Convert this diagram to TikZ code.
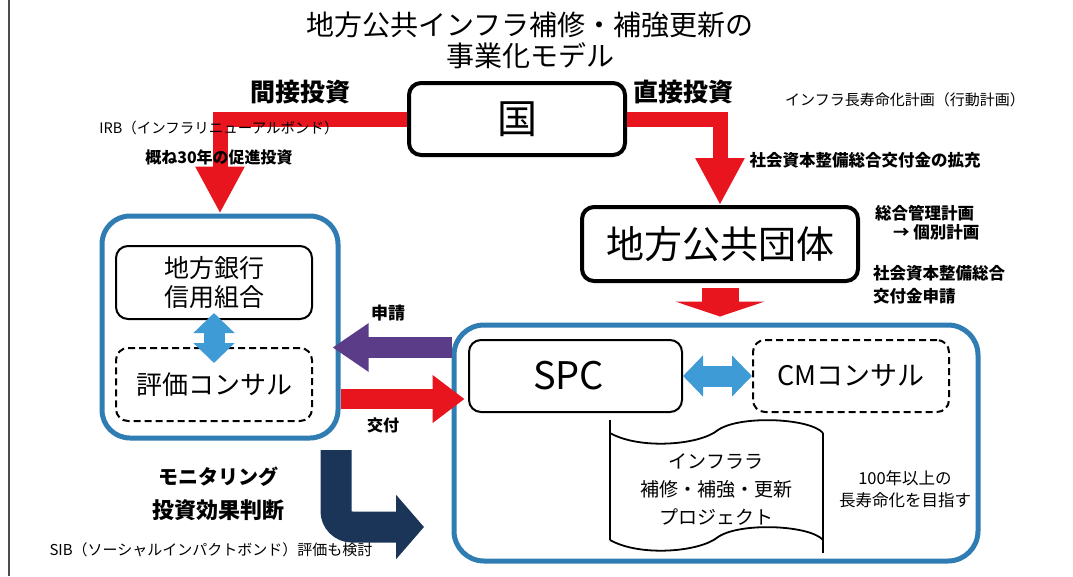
\documentclass[tikz,border=0pt]{standalone}
\usepackage{fontspec}
\setmainfont{Noto Sans CJK JP}
\usetikzlibrary{arrows.meta,calc}
\definecolor{jred}{HTML}{E8141E}
\definecolor{jblue}{HTML}{2F7DB3}
\definecolor{lblue}{HTML}{3E9BD5}
\definecolor{jpurple}{HTML}{5A3C88}
\definecolor{jnavy}{HTML}{1A3558}
\newcommand{\fsz}[2]{\fontsize{#1}{#2}\selectfont}
\tikzset{
  thickbox/.style={draw, line width=4pt, rounded corners=12pt, inner sep=0pt},
  thinbox/.style={draw, line width=2pt, rounded corners=12pt, inner sep=0pt},
  dashbox/.style={draw, line width=2pt, rounded corners=12pt, dash pattern=on 7pt off 4pt, inner sep=0pt},
  container/.style={draw=jblue, line width=5pt, rounded corners=28pt, inner sep=0pt},
  lbl/.style={inner sep=0pt},
  redbend/.style={draw=jred, line width=15pt, line join=miter, -{Triangle[width=46pt,length=47pt]}},
  dblue/.style={draw=lblue, line width=21pt, {Triangle[width=40pt,length=20pt]}-{Triangle[width=40pt,length=20pt]}},
}
\begin{document}
\begin{tikzpicture}[x=1pt,y=-1pt]
\useasboundingbox (0,0) rectangle (1073,576);
\fill[white] (0,0) rectangle (1073,576);
\draw[line width=1.5pt, black!70] (9,0) -- (9,576);

% title
\node[lbl, align=center, font=\fsz{28}{31}] (title) at (530,40) {地方公共インフラ補修・補強更新の\\事業化モデル};

% main nodes
\node[thickbox, minimum width=216, minimum height=72, font=\fsz{40}{44}] (guo) at (517,119) {国};
\node[thickbox, minimum width=276, minimum height=74, font=\fsz{38}{42}] (local) at (720,244) {地方公共団体};

\node[container, minimum width=236, minimum height=222] (bankc) at (220,327) {};
\node[thinbox, minimum width=196, minimum height=73, align=center, font=\fsz{25}{29}] (bank) at (214,282.5) {地方銀行\\信用組合};
\node[dashbox, minimum width=196, minimum height=73, font=\fsz{26}{30}] (hyouka) at (214,384.5) {評価コンサル};

\node[container, minimum width=524, minimum height=236, rounded corners=30pt] (rightc) at (716,443) {};
\node[thinbox, minimum width=213, minimum height=72, font=\fsz{38}{42}] (spc) at (575.5,376) {\hspace*{-14pt}SPC};
\node[dashbox, minimum width=196, minimum height=72, font=\fsz{27}{31}] (cm) at (851,376) {CMコンサル};

% project document shape
\node[lbl, align=center, font=\fsz{19}{28}] (proj) at (716,489) {インフララ\\補修・補強・更新\\プロジェクト};
\draw[line width=1.8pt] (610,420) -- (610,540);
\draw[line width=1.8pt] (823,433) -- (823,553);
\draw[line width=1.8pt] (610,433) .. controls (640,450) and (700,445) .. (718,430) .. controls (740,415) and (810,418) .. (823,433);
\draw[line width=1.8pt] (610,540) .. controls (640,557) and (700,552) .. (718,537) .. controls (740,522) and (810,525) .. (823,540);

% connectors
\draw[redbend] (guo.west) -| (bankc.north);
\draw[redbend] (guo.east) -| (local.north);
\draw[draw=jred, line width=37pt, -{Triangle[width=89pt,length=15pt]}, shorten <=5pt, shorten >=6pt] (local.south) -- (local.south |- rightc.north);

\draw[dblue] ([yshift=7pt]bank.south) -- ([yshift=-16pt]hyouka.north);
\draw[dblue] (spc.east) -- (cm.west);

\coordinate (shinsei) at (400,347.5);
\coordinate (koufu) at (400,399);
\draw[draw=jpurple, line width=21pt, -{Triangle[width=46pt,length=36pt]}, shorten >=-8pt] (rightc.west |- shinsei) -- (bankc.east |- shinsei);
\draw[draw=jred, line width=20pt, -{Triangle[width=46pt,length=32pt]}, shorten >=-13pt] (bankc.east |- koufu) -- (rightc.west |- koufu);

\coordinate (monA) at (336,450);
\coordinate (monB) at (424,527);
\draw[draw=jnavy, line width=31pt, rounded corners=16pt, -{Triangle[width=63pt,length=28pt]}] (monA) |- (monB);

% labels
\node[lbl, font=\bfseries\fsz{25}{28}] (l1) at (300,92) {間接投資};
\node[lbl, font=\bfseries\fsz{25}{28}] (l2) at (683,92) {直接投資};
\node[lbl, font=\fsz{14.5}{17}] (l3) at (219,128) {IRB（インフラリニューアルボンド）};
\node[lbl, font=\bfseries\fsz{16}{19}] (l4) at (219,157) {概ね30年の促進投資};
\node[lbl, font=\fsz{15}{18}] (l5) at (905,100) {インフラ長寿命化計画（行動計画）};
\node[lbl, font=\bfseries\fsz{16.5}{19}] (l6) at (865,160) {社会資本整備総合交付金の拡充};
\node[lbl, anchor=west, font=\bfseries\fsz{16.5}{19}] (l7) at (875,213) {総合管理計画};
\node[lbl, anchor=west, font=\bfseries\fsz{16.5}{19}] (l8) at (893,232) {→\ 個別計画};
\node[lbl, anchor=west, font=\bfseries\fsz{16.5}{19}] (l9) at (873,273) {社会資本整備総合};
\node[lbl, anchor=west, font=\bfseries\fsz{16.5}{19}] (l10) at (873,296) {交付金申請};
\node[lbl, font=\bfseries\fsz{17}{20}] (l11) at (388,313) {申請};
\node[lbl, font=\bfseries\fsz{16}{19}] (l12) at (383,425) {交付};
\node[lbl, font=\bfseries\fsz{20}{23}] (l13) at (218,477) {モニタリング};
\node[lbl, font=\bfseries\fsz{22}{25}] (l14) at (218,510) {投資効果判断};
\node[lbl, font=\fsz{15}{18}] (l15) at (211,550) {SIB（ソーシャルインパクトボンド）評価も検討};
\node[lbl, align=center, font=\fsz{16.5}{22}] (l16) at (905,489) {100年以上の\\長寿命化を目指す};
\end{tikzpicture}
\end{document}
